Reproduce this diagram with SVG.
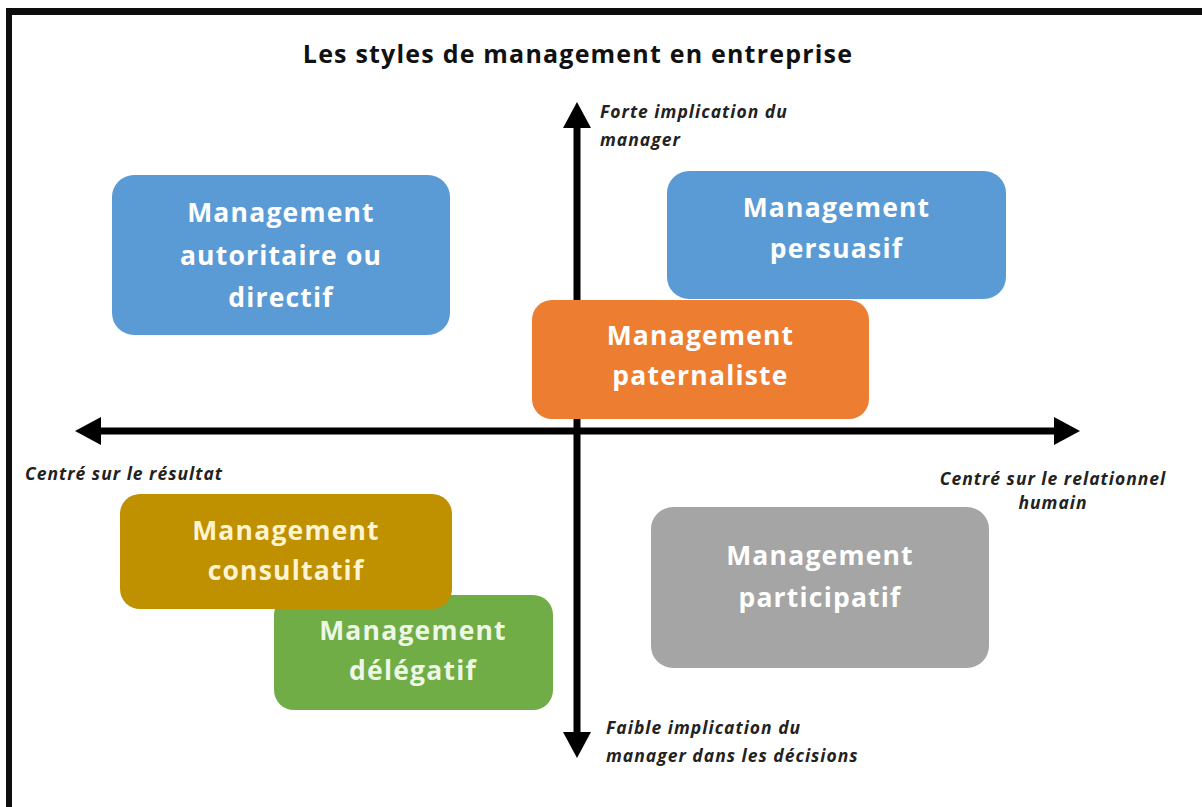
<svg xmlns="http://www.w3.org/2000/svg" width="1202" height="807" viewBox="0 0 1202 807">
  <defs>
    <style>
      .box-text { font-family: "Open Sans", "Liberation Sans", sans-serif; font-weight: 700; font-size: 26.5px; letter-spacing: 1.2px; text-anchor: middle; fill: #ffffff; }
      .label { font-family: "Open Sans", "Liberation Sans", sans-serif; font-weight: 700; font-style: italic; font-size: 17.5px; letter-spacing: 1px; fill: #222222; }
      .title { font-family: "Open Sans", "Liberation Sans", sans-serif; font-weight: 700; font-size: 25px; letter-spacing: 1.2px; fill: #111111; }
      .axis { stroke: #000000; stroke-width: 7; fill: none; marker-start: url(#arrow); marker-end: url(#arrow); }
    </style>
    <marker id="arrow" viewBox="0 0 26 28" refX="0" refY="14" markerWidth="26" markerHeight="28" markerUnits="userSpaceOnUse" orient="auto-start-reverse">
      <path d="M0,0 L26,14 L0,28 Z" fill="#000000"/>
    </marker>
  </defs>

  <rect x="0" y="0" width="1202" height="807" fill="#ffffff"/>
  <!-- frame -->
  <rect x="6" y="8" width="1196" height="7" fill="#0d0d0d"/>
  <rect x="6" y="8" width="6" height="799" fill="#0d0d0d"/>

  <text class="title" x="578" y="63" text-anchor="middle">Les styles de management en entreprise</text>

  <g id="connectors">
    <line class="axis" x1="101" y1="431" x2="1054" y2="431"/>
    <line class="axis" x1="577" y1="128" x2="577" y2="732"/>
  </g>

  <g id="labels">
    <text class="label" x="600" y="118">Forte implication du</text>
    <text class="label" x="600" y="146">manager</text>
    <text class="label" x="25" y="480">Centré sur le résultat</text>
    <text class="label" x="1053" y="485" text-anchor="middle">Centré sur le relationnel</text>
    <text class="label" x="1053" y="509" text-anchor="middle">humain</text>
    <text class="label" x="606" y="734">Faible implication du</text>
    <text class="label" x="606" y="762">manager dans les décisions</text>
  </g>

  <g id="node-autoritaire">
    <rect x="112" y="175" width="338" height="160" rx="22" fill="#5b9bd5"/>
    <text class="box-text" x="281" y="222">Management</text>
    <text class="box-text" x="281" y="265">autoritaire ou</text>
    <text class="box-text" x="281" y="307">directif</text>
  </g>

  <g id="node-persuasif">
    <rect x="667" y="171" width="339" height="128" rx="22" fill="#5b9bd5"/>
    <text class="box-text" x="836.5" y="217">Management</text>
    <text class="box-text" x="836.5" y="258">persuasif</text>
  </g>

  <g id="node-paternaliste">
    <rect x="532" y="300" width="337" height="119" rx="20" fill="#ed7d31"/>
    <text class="box-text" x="700.5" y="345">Management</text>
    <text class="box-text" x="700.5" y="385">paternaliste</text>
  </g>

  <g id="node-delegatif">
    <rect x="274" y="595" width="279" height="115" rx="20" fill="#70ad47"/>
    <text class="box-text" x="413" y="640" style="fill:#eef7e6">Management</text>
    <text class="box-text" x="413" y="680" style="fill:#eef7e6">délégatif</text>
  </g>

  <g id="node-consultatif">
    <rect x="120" y="494" width="332" height="115" rx="20" fill="#bf9000"/>
    <text class="box-text" x="286" y="540" style="fill:#fff4d2">Management</text>
    <text class="box-text" x="286" y="580" style="fill:#fff4d2">consultatif</text>
  </g>

  <g id="node-participatif">
    <rect x="651" y="507" width="338" height="161" rx="22" fill="#a5a5a5"/>
    <text class="box-text" x="820" y="565">Management</text>
    <text class="box-text" x="820" y="607">participatif</text>
  </g>
</svg>
